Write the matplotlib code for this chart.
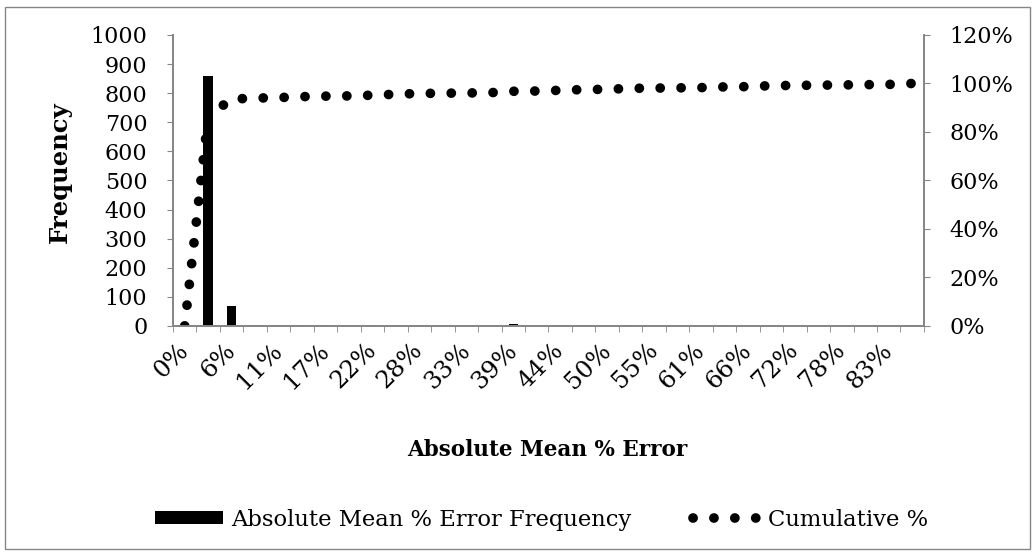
import numpy as np
import matplotlib as mpl
import matplotlib.pyplot as plt
from matplotlib.patches import Rectangle
from matplotlib.ticker import MultipleLocator, FuncFormatter
from matplotlib.transforms import ScaledTranslation

mpl.rcParams['font.family'] = 'DejaVu Serif'
FS = 16
GRAY = '#868686'

# histogram bins (each bin ~2.78 % wide), frequency per bin
frequency = [0, 860, 70, 4, 2, 4, 2, 1, 3, 4, 3, 1, 1, 1, 6, 1,
             3, 3, 1, 4, 1, 1, 1, 3, 1, 4, 1, 1, 1, 1, 1, 4]
bin_labels = ['0%', '6%', '11%', '17%', '22%', '28%', '33%', '39%',
              '44%', '50%', '55%', '61%', '66%', '72%', '78%', '83%']

freq = np.array(frequency)
cumulative = np.cumsum(freq) / freq.sum()
x = np.arange(len(freq))

fig = plt.figure(figsize=(10.35, 5.54), dpi=100)
ax = fig.add_axes((0.1671, 0.4116, 0.7256, 0.5253))

bars = ax.bar(x, freq, width=0.4, color='black', zorder=2,
              label='Absolute Mean % Error Frequency')
ax.set_xlim(-0.5, len(freq) - 0.5)
ax.set_ylim(0, 1000)
ax.yaxis.set_major_locator(MultipleLocator(100))

ax.set_xticks(x[::2])
ax.set_xticklabels(bin_labels, rotation=45, ha='right', va='center',
                   rotation_mode='anchor')
shift = ScaledTranslation(-7 / 100, 0, fig.dpi_scale_trans)
for lab in ax.get_xticklabels():
    lab.set_transform(lab.get_transform() + shift)
ax.set_xticks(np.arange(-0.5, len(freq), 1), minor=True)
ax.tick_params(axis='x', which='major', length=0, pad=15, labelsize=17.5)
ax.tick_params(axis='x', which='minor', length=4.5, color=GRAY, direction='out')
ax.tick_params(axis='y', length=4.5, color=GRAY, labelsize=FS, pad=14)

ax2 = ax.twinx()
line, = ax2.plot(x, cumulative, color='black', linewidth=7,
                 linestyle=(0, (0.01, 2.14)), dash_capstyle='round',
                 label='Cumulative %')
ax2.set_ylim(0, 1.2)
ax2.yaxis.set_major_locator(MultipleLocator(0.2))
ax2.yaxis.set_major_formatter(FuncFormatter(lambda v, p: f'{v*100:.0f}%'))
ax2.tick_params(axis='y', length=4.5, color=GRAY, labelsize=FS, pad=14)

for a in (ax, ax2):
    a.spines['top'].set_visible(False)
    for s in ('left', 'right', 'bottom'):
        a.spines[s].set_color(GRAY)
        a.spines[s].set_linewidth(1.3)

ax.set_ylabel('Frequency', fontsize=17.5, fontweight='bold')
ax.yaxis.set_label_coords(-0.134, 0.53)
fig.text(0.529, 0.187, 'Absolute Mean % Error', fontsize=15.5, fontweight='bold',
         ha='center', va='center')

fig.legend(handles=[bars, line], loc='center', bbox_to_anchor=(0.5237, 0.062),
           ncol=2, frameon=False, fontsize=16.3, handlelength=3.0,
           handleheight=0.55, handletextpad=0.35, columnspacing=2.7)

fig.patches.append(Rectangle((5 / 1035, 5 / 554), 1025 / 1035, 542 / 554,
                             transform=fig.transFigure, fill=False,
                             edgecolor=GRAY, linewidth=1))

fig.savefig('out.png', dpi=100)
